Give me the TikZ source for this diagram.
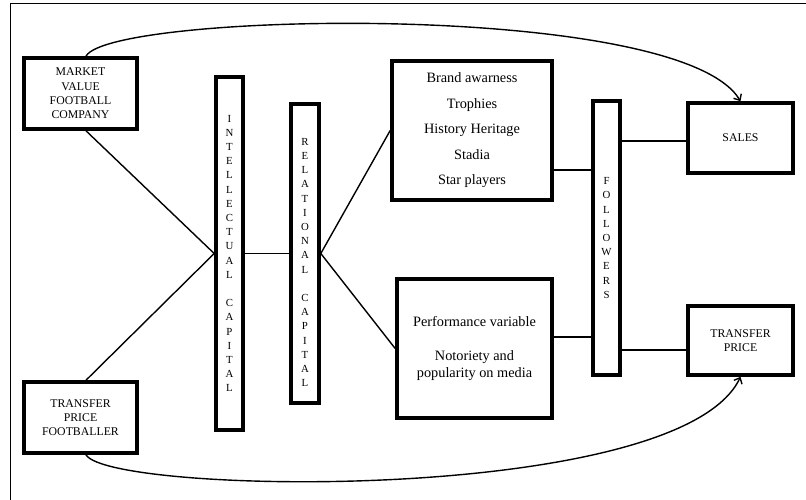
\documentclass[tikz,border=0pt]{standalone}
\usepackage{fontspec}
\setmainfont{Liberation Serif}
\usetikzlibrary{arrows.meta}

\begin{document}
\begin{tikzpicture}[x=1pt,y=-1pt,
  box/.style={draw,line width=3.6pt,rectangle,inner sep=0pt,align=center},
  capsbox/.style={box,font=\fontsize{11.8}{14.3}\selectfont},
  listbox/.style={box,font=\fontsize{14.3}{25.5}\selectfont},
  bar/.style={box,font=\fontsize{10.8}{14.2}\selectfont},
  link/.style={line width=1.4pt},
  flow/.style={line width=1.4pt,-{Straight Barb[length=5pt,width=9pt,line width=1.4pt]}}
]
\useasboundingbox (0,0) rectangle (806,499);
\clip (0,0) rectangle (806,499);
\fill[white] (0,0) rectangle (806,499);
% outer frame
\draw[line width=1pt] (10,3.5) rectangle (830,530);

% left boxes
\node[capsbox,minimum width=113pt,minimum height=71pt] (mv) at (80.5,93.5)
  {MARKET\\VALUE\\FOOTBALL\\COMPANY};
\node[capsbox,minimum width=113pt,minimum height=71pt] (tpf) at (80.5,417.5)
  {TRANSFER\\PRICE\\FOOTBALLER};

% capital bars
\node[bar,minimum width=27pt,minimum height=353pt] (ic) at (229.5,253.5)
  {I\\N\\T\\E\\L\\L\\E\\C\\T\\U\\A\\L\\[14.2pt]C\\A\\P\\I\\T\\A\\L};
\node[box,minimum width=28pt,minimum height=299pt] (rc) at (305,253.5) {};
\node[font=\fontsize{10.8}{14.2}\selectfont,align=center,inner sep=0pt] (rct) at (305,262.5)
  {R\\E\\L\\A\\T\\I\\O\\N\\A\\L\\[14.2pt]C\\A\\P\\I\\T\\A\\L};

% middle boxes
\node[listbox,minimum width=160pt,minimum height=139pt] (brand) at (472,130.5)
  {Brand awarness\\Trophies\\History Heritage\\Stadia\\Star players};
\node[box,font=\fontsize{14.3}{17}\selectfont,minimum width=155pt,minimum height=139pt] (perf) at (474.5,348.5)
  {Performance variable\\[17pt]Notoriety and\\popularity on media};

% followers bar
\node[bar,minimum width=27pt,minimum height=274pt] (fol) at (606.5,238)
  {F\\O\\L\\L\\O\\W\\E\\R\\S};

% right boxes
\node[capsbox,minimum width=105pt,minimum height=70pt] (sales) at (740.5,138) {SALES};
\node[capsbox,minimum width=105pt,minimum height=69pt] (tp) at (740.5,340.5) {TRANSFER\\PRICE};

% connectors
\draw[link] ([xshift=5.5pt]mv.south) -- (ic.west);
\draw[link] ([xshift=5.5pt]tpf.north) -- (ic.west);
\draw[link] (ic.east) -- (rc.west);
\draw[link] (rc.east) -- (brand.west);
\draw[link] (rc.east) -- (perf.west);
\draw[link] ([yshift=-39.5pt]brand.east) -- ([yshift=-39.5pt]brand.east -| fol.west);
\draw[link] ([yshift=11.5pt]perf.east) -- ([yshift=11.5pt]perf.east -| fol.west);
\draw[link] ([yshift=-3pt]sales.west -| fol.east) -- ([yshift=-3pt]sales.west);
\draw[link] ([yshift=-9.5pt]tp.west -| fol.east) -- ([yshift=-9.5pt]tp.west);

% long curved arrows
\draw[flow] ([xshift=5.5pt]mv.north) .. controls (110,12) and (680,0) .. (sales.north);
\draw[flow] ([xshift=5.5pt]tpf.south) .. controls (110,495) and (680,505) .. (tp.south);
\end{tikzpicture}
\end{document}
